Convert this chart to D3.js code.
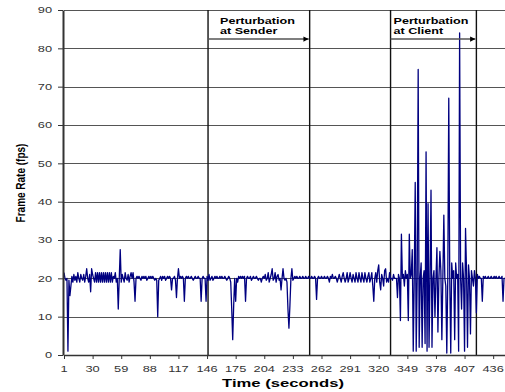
<!DOCTYPE html>
<html>
<head>
<meta charset="utf-8">
<script src="https://cdn.jsdelivr.net/npm/d3@7"></script>
<style>
  body { margin: 0; background: #fff; }
  svg { display: block; font-family: "Liberation Sans", Arial, sans-serif; }
</style>
</head>
<body>
<svg id="chart" width="505" height="392"></svg>
<script>
// frame rate per second, t = 1..448
var frameRate = [
  21.5, 20, 19.5, 20, 1, 19.5, 15.5, 18, 20.5, 19, 21, 19.5, 20.5, 19, 21.5, 20, 19, 21, 20, 19.5,
  21, 19, 20.5, 22.5, 20, 19, 21, 16.5, 22.5, 21, 20, 19, 21.5, 19, 21.5, 19, 21.5, 19, 21.5, 19,
  21.5, 19, 21.5, 19, 21.5, 19, 21.5, 19, 21.5, 19, 20.5, 20, 21.5, 19, 20, 12, 20, 27.5, 19, 21,
  20, 19, 21.5, 20, 19.5, 21, 19, 20.5, 21.5, 20, 21.5, 19, 14, 20, 20.5, 20, 20.5, 20, 19.5, 20.5,
  20, 20.5, 20, 20.5, 19.5, 20, 20.5, 20, 20.5, 20, 20.5, 20, 19.5, 20, 19.5, 10, 19.5, 20, 20.5, 19.5,
  20.5, 20, 20.5, 19.5, 20, 20.5, 20, 20.5, 20, 17, 20, 20, 20.5, 19.5, 15, 20, 22.5, 20, 20.5, 20,
  20.5, 20, 14, 20, 20.5, 20, 20.5, 20, 20, 20.5, 20, 19.5, 20, 20.5, 20, 20, 20.5, 20, 20, 14,
  20, 20.5, 20, 20, 14, 20.5, 19.5, 21, 19.5, 20, 20.5, 19.5, 20, 20.5, 20, 20.5, 20, 20, 20.5, 20,
  20.5, 20, 20, 20.5, 20, 19.5, 20, 20.5, 20, 19, 12, 4, 13, 20, 14, 20, 19, 20.5, 20, 20.5,
  20, 20.5, 20, 20.5, 14, 20, 20.5, 20, 20, 20.5, 19.5, 20, 20.5, 20, 20, 20.5, 20, 19.5, 20, 20,
  19, 20, 20.5, 20, 21, 19.5, 20, 21.5, 19, 20, 21, 22.5, 19.5, 20, 21.5, 19, 20.5, 21, 19.5, 20,
  17, 20, 22.5, 20, 19.5, 20, 19, 12, 7, 13, 20, 22.5, 19.5, 20, 20.5, 20, 20.5, 20, 20, 20.5,
  20, 20, 20.5, 20, 20, 20.5, 20, 20, 20.5, 20, 20, 20.5, 20, 20, 20.5, 20, 14.5, 20, 20.5, 20,
  20, 20.5, 20, 20, 20.5, 20, 20, 20.5, 20, 19, 20.5, 20, 21, 20, 20, 20.5, 20, 19, 20, 21,
  20, 19, 20.5, 21.5, 20, 19, 20, 21.5, 19, 20, 21.5, 20, 19, 21, 20, 19, 21.5, 20, 19, 21.5,
  20, 19, 21.5, 20, 19, 21.5, 20, 19, 20.5, 21.5, 19, 20, 21.5, 18, 14, 20, 21.5, 19, 22, 23.5,
  19, 17, 21, 20, 18, 22, 22.5, 19, 20, 19, 21.5, 20, 20, 19.5, 21, 20, 20, 20, 15, 21,
  20, 9, 31.5, 20, 21, 18, 22, 20, 21, 9, 31.5, 20, 21, 27.5, 1, 20, 45, 1, 20, 74.5,
  2, 20, 24, 2, 20, 22, 3, 53, 1, 39.5, 2, 20, 43, 2, 20, 22, 10, 20, 28, 6,
  20, 27, 22, 4, 20, 36.5, 20, 18, 0.5, 20, 67, 20, 0.5, 24, 20, 22, 4, 24, 20, 21,
  1, 84, 20, 12, 24, 20, 1, 33, 22, 2, 23.5, 20, 5.5, 22, 20, 18, 22, 20, 11, 21,
  20, 20.5, 20, 20, 14, 20.5, 20, 20.5, 20, 20, 20.5, 20, 20, 20.5, 20, 20, 20.5, 20, 20.5, 20,
  20, 20.5, 20, 20, 20.5, 14, 20, 20
];

var xTicks = [1, 30, 59, 88, 117, 146, 175, 204, 233, 262, 291, 320, 349, 378, 407, 436];
var yTicks = [0, 10, 20, 30, 40, 50, 60, 70, 80, 90];

// perturbation windows (seconds)
var perturbNames = [["Perturbation", "at Sender"], ["Perturbation", "at Client"]];
var perturbStart = [147, 332];
var perturbEnd = [250, 419];

var svg = d3.select("#chart");
var plotL = 64, plotR = 505, plotT = 10, plotB = 355;
var stretch = 1.35; // text in the original is horizontally stretched

var x = d3.scaleLinear().domain([1, 448]).range([plotL, plotR]);
var y = d3.scaleLinear().domain([0, 90]).range([plotB, plotT]);

// horizontal grid
svg.append("g").selectAll("line")
  .data(yTicks.filter(d => d > 0))
  .enter().append("line")
  .attr("x1", plotL).attr("x2", plotR)
  .attr("y1", d => Math.round(y(d)) + 0.5).attr("y2", d => Math.round(y(d)) + 0.5)
  .style("stroke", "#555").style("stroke-width", 1);

// perturbation boundary lines
var bounds = perturbStart.concat(perturbEnd);
svg.append("g").selectAll("line")
  .data(bounds)
  .enter().append("line")
  .attr("x1", d => x(d)).attr("x2", d => x(d))
  .attr("y1", plotT).attr("y2", plotB)
  .style("stroke", "#111").style("stroke-width", 1.4);

// frame rate line
var line = d3.line()
  .x((d, i) => x(i + 1))
  .y(d => y(d));

svg.append("path")
  .datum(frameRate)
  .attr("d", line)
  .style("fill", "none")
  .style("stroke", "#000080")
  .style("stroke-width", 1.3)
  .style("stroke-linejoin", "round");

// y axis
var yAxis = svg.append("g")
  .attr("transform", "translate(" + (plotL - 1) + ",0)")
  .call(d3.axisLeft(y).tickValues(yTicks).tickSize(5).tickSizeOuter(0).tickFormat(""));
yAxis.select(".domain").style("stroke", "#333").style("stroke-width", 2);
yAxis.selectAll(".tick line").style("stroke", "#333");

svg.append("g").selectAll("text")
  .data(yTicks)
  .enter().append("text")
  .attr("transform", d => "translate(52," + y(d) + ") scale(" + stretch + ",1)")
  .attr("dy", "0.35em")
  .attr("text-anchor", "end")
  .style("font-size", "9.5px")
  .style("fill", "#333")
  .text(d => d);

// x axis
var xAxis = svg.append("g")
  .attr("transform", "translate(0," + plotB + ")")
  .call(d3.axisBottom(x).tickValues(xTicks).tickSize(4).tickSizeOuter(0).tickFormat(""));
xAxis.select(".domain").style("stroke", "#333").style("stroke-width", 1.5);
xAxis.selectAll(".tick line").style("stroke", "#333");

svg.append("g").selectAll("text")
  .data(xTicks)
  .enter().append("text")
  .attr("transform", d => "translate(" + x(d) + ",372) scale(" + stretch + ",1)")
  .attr("text-anchor", "middle")
  .style("font-size", "9.5px")
  .style("fill", "#333")
  .text(d => d);

// axis titles
svg.append("text")
  .attr("transform", "translate(283,387) scale(1.45,1)")
  .attr("text-anchor", "middle")
  .style("font-size", "11.5px")
  .style("font-weight", "bold")
  .text("Time (seconds)");

svg.append("text")
  .attr("transform", "translate(25,183) scale(" + stretch + ",1) rotate(-90)")
  .attr("text-anchor", "middle")
  .style("font-size", "10px")
  .style("font-weight", "bold")
  .text("Frame Rate (fps)");

// annotations with arrows
svg.append("defs").append("marker")
  .attr("id", "arrow")
  .attr("viewBox", "0 0 10 10")
  .attr("refX", 10).attr("refY", 5)
  .attr("markerWidth", 5).attr("markerHeight", 3.5)
  .attr("markerUnits", "strokeWidth")
  .attr("orient", "auto")
  .append("path")
  .attr("d", "M0,0 L10,5 L0,10 Z")
  .style("fill", "#000");

var labelPad = [12, 3];
perturbNames.forEach(function (lines, i) {
  var x0 = x(perturbStart[i]), x1 = x(perturbEnd[i]);
  lines.forEach(function (t, j) {
    svg.append("text")
      .attr("transform", "translate(" + (x0 + labelPad[i]) + "," + (24 + j * 10) + ") scale(1.4,1)")
      .style("font-size", "9px")
      .style("font-weight", "bold")
      .text(t);
  });
  svg.append("line")
    .attr("x1", x0).attr("x2", x1 - 1)
    .attr("y1", 39).attr("y2", 39)
    .style("stroke", "#555")
    .style("stroke-width", 1.5)
    .attr("marker-end", "url(#arrow)");
});
</script>
</body>
</html>
